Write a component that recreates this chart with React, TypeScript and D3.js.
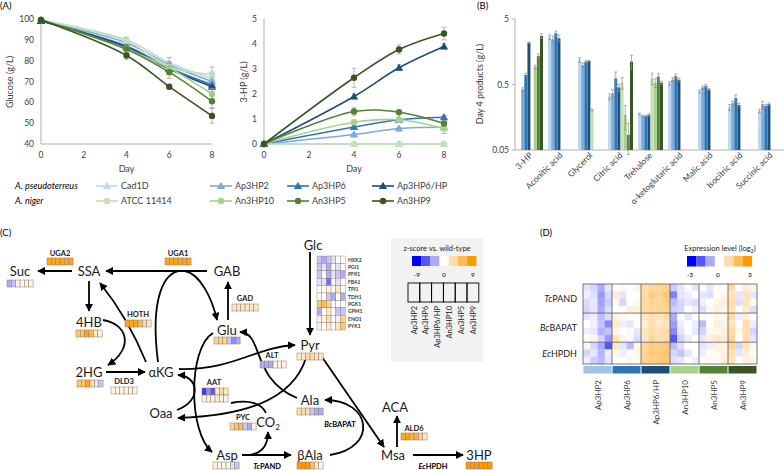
import React from "react";
import * as d3 from "d3";

const FONT = "Lato, 'Liberation Sans', sans-serif";

// ---------- Panel A data ----------
const days = [0, 4, 6, 8];
const strains = ["Cad1D", "Ap3HP2", "Ap3HP6", "Ap3HP6/HP", "ATCC 11414", "An3HP10", "An3HP5", "An3HP9"];
const strainColors = ["#BDD7EE", "#7EA9DC", "#2E75B6", "#1F4E79", "#C5E0B4", "#A9D18E", "#548235", "#375623"];
const strainMarker = ["tri", "tri", "tri", "tri", "circ", "circ", "circ", "circ"];

const glucose = [
  [99.5, 90.0, 79.0, 71.5],
  [99.0, 88.5, 78.0, 70.0],
  [99.0, 87.0, 76.5, 68.5],
  [99.0, 86.5, 76.0, 67.5],
  [99.5, 89.5, 77.0, 73.5],
  [99.5, 85.5, 76.5, 64.0],
  [99.5, 85.5, 74.5, 60.5],
  [99.5, 82.5, 67.5, 53.5],
];
const glucoseErr = [
  [0.3, 1.0, 2.5, 3.0],
  [0.3, 1.0, 1.5, 2.0],
  [0.3, 1.0, 1.5, 1.5],
  [0.3, 0.8, 1.0, 1.5],
  [0.3, 1.5, 2.0, 3.5],
  [0.3, 1.5, 2.5, 2.5],
  [0.3, 1.5, 3.0, 3.0],
  [0.3, 2.0, 1.0, 3.5],
];
const hp = [
  [0, 0, 0, 0],
  [0, 0.38, 0.62, 0.67],
  [0, 0.68, 0.97, 1.07],
  [0, 1.9, 3.05, 3.9],
  [0, 0, 0, 0],
  [0, 0.87, 0.97, 0.62],
  [0, 1.3, 1.27, 0.82],
  [0, 2.65, 3.78, 4.42],
];
const hpErr = [
  [0, 0, 0, 0],
  [0, 0.05, 0.05, 0.08],
  [0, 0.08, 0.06, 0.08],
  [0, 0.1, 0.12, 0.12],
  [0, 0, 0, 0],
  [0, 0.08, 0.06, 0.2],
  [0, 0.15, 0.05, 0.1],
  [0, 0.38, 0.18, 0.25],
];
const glucoseTicks = [40, 50, 60, 70, 80, 90, 100];
const hpTicks = [0, 1, 2, 3, 4, 5];
const dayTicks = [0, 2, 4, 6, 8];

// ---------- Panel B data ----------
const products = ["3-HP", "Aconitic acid", "Glycerol", "Citric acid", "Trehalose", "α-ketoglutaric acid", "Malic acid", "Isocitric acid", "Succinic acid"];
const productVals: (number | null)[][] = [
  [null, 2.63, 1.18, 0.326, 0.177, 0.52, 0.39, 0.224, 0.197],
  [0.42, 2.45, 0.99, 0.367, 0.165, 0.59, 0.45, 0.258, 0.25],
  [0.70, 3.03, 1.11, 0.62, 0.165, 0.67, 0.475, 0.31, 0.235],
  [2.17, 2.54, 1.14, 0.45, 0.171, 0.59, 0.42, 0.243, 0.25],
  [null, null, 0.204, 0.53, 0.62, null, null, null, null],
  [0.93, null, null, 0.171, 0.53, null, null, null, null],
  [1.36, null, null, 0.085, 0.66, null, null, null, null],
  [2.75, null, null, 1.12, 0.53, null, null, null, null],
];
const productErrPct = [
  [0, 8, 8, 10, 3, 6, 5, 10, 6],
  [6, 12, 8, 14, 3, 8, 5, 8, 10],
  [6, 8, 4, 25, 3, 8, 5, 12, 6],
  [2, 12, 3, 12, 5, 6, 4, 6, 5],
  [0, 0, 3, 20, 20, 0, 0, 0, 0],
  [6, 0, 0, 40, 15, 0, 0, 0, 0],
  [8, 0, 0, 50, 12, 0, 0, 0, 0],
  [8, 0, 0, 25, 6, 0, 0, 0, 0],
];
const productTicks = [0.05, 0.5, 5];

// ---------- Panel C data ----------
const geneZ: Record<string, number[]> = {
  UGA2: [8, 8, 8, 8, 8, 8],
  UGA1: [8, 8, 8, 8, 8, 8],
  Suc: [-3, -2, 1, 0.5, 1, 1],
  HOTH: [8, 8, 8, 6, 3, 2],
  "4HB": [5, 5, 8, 6, 2, 1],
  "2HG": [5, 5, 8, 3, -1, -2],
  DLD3: [1, 1, 1, 1, 1, 1],
  GAD: [2, 2, 2, 2, 2, 2],
  Glu: [4, 4, 4, -2, -4, -3],
  ALT: [-3, -3, -3, 1, 1, 1],
  Pyr: [2, 2, 3, 3, 2, 2],
  AAT1: [-7, -4, -6, 2, 3, 2],
  AAT2: [1, 1, 1, 1.5, 1, 1],
  Ala: [3, 3, 3, -2, -3, -3],
  PYC: [4, 5, 6, -2, -3, 1],
  Asp: [1, 1, 1, 1, -1, -2],
  bAla: [9, 9, 9, 6, 2, 1],
  ALD6: [8, 8, 7, 7, 4, 2],
  HP3: [9, 9, 9, 9, 9, 9],
};
const glycoGenes = ["HXK2", "PGI1", "PFK1", "FBA1", "TPI1", "TDH1", "PGK1", "GPM1", "ENO1", "PYK1"];
const glycoZ = [
  [-2, -3, -2, -1, 0, 0],
  [-2, -1, -3, 0, -1, 0],
  [-2, 0, -3, -1, -2, -3],
  [-1, -1, -5, 0, -1, 0],
  [0, 0, 1, 0, 2, 0],
  [0, 0, -2, -3, 0, -3],
  [5, 6, 4, 0, 0, 0],
  [-3, 0, 2, 0, -2, -2],
  [1, 1, 3, 0, 1, 4],
  [1, 0, 2, 0, 2, 5],
];
const mutantNames = ["Ap3HP2", "Ap3HP6", "Ap3HP6/HP", "An3HP10", "An3HP5", "An3HP9"];
const legendSteps = [-9, -6, -3, 0, 3, 6, 9];

// ---------- Panel D data ----------
const dRowGroups = ["TcPAND", "BcBAPAT", "EcHPDH"];
const dGroupSizes = [4, 4, 3];
const mutantColors = ["#9DC3E6", "#2E75B6", "#1F4E79", "#A9D18E", "#548235", "#375623"];
const expr = [
  [-0.3, -0.5, -1.0, -0.3, 0, 0.2, 0, 0.3, 1.0, 1.2, 1.3, 1.3, -0.6, -0.3, 0, -0.3, 0, -0.3, 0.2, 0, 1.0, 0, 0.5, 0.3],
  [-0.2, -0.4, -1.2, -0.5, 0.5, -0.3, 0, 0, 1.1, 1.5, 1.3, 1.7, -1.5, -0.3, -0.2, 0, -0.3, -0.4, 0, 0.3, 0.8, -0.3, 0.8, -0.3],
  [-0.4, -0.3, -1.1, -0.6, 0.2, -0.5, 0, 0.2, 1.1, 1.3, 1.2, 1.4, -0.8, -0.5, -0.3, -0.4, -0.2, 0, 0.3, 0.5, 1.0, -0.4, 0.8, 0.2],
  [-0.5, -0.3, -1.0, -0.4, 0, 0.1, 0.4, 0.4, 1.0, 1.2, 1.2, 1.3, -0.6, -0.5, 0, -0.2, -0.4, 0.2, 0.4, 0.3, 0.9, 0, 0.6, -0.4],
  [-0.3, -0.2, -0.8, -0.4, 0.4, 0.2, 0, 0.1, 0.7, 0.9, 0.8, 1.0, -1.0, 0, -0.3, 0, 0, 0, 0.3, 0.2, 1.0, -0.2, 0.5, 0],
  [0, -0.2, -0.7, -1.4, 0.6, -0.2, -0.3, 0, 0.5, 1.0, 0.6, 0.8, -1.2, -0.2, 0, -0.2, -0.8, 0, 0.5, 0.3, 0.8, 0, 1.0, -0.2],
  [-0.2, -0.3, -0.9, -0.7, 0.3, 0, 0.2, -0.3, 0.8, 1.0, 0.9, 1.1, -1.4, -0.3, 0, -0.3, -0.5, 0.2, 0.2, 0.4, 1.1, 0.3, 0.9, -0.5],
  [0, 0.3, -0.5, -1.2, 0.8, 0.3, -0.1, -0.4, 0.7, 1.2, 0.9, 1.0, -2.0, -0.5, -0.2, 0, -0.3, 0.4, 0.6, 0.5, 1.2, 0, 1.0, -0.3],
  [0.3, -0.5, -1.0, -2.0, 0.7, -0.3, -0.8, 0.2, 1.2, 1.5, 1.4, 1.6, -0.8, -0.4, 0, 0, -0.3, -0.2, 0.4, 0.3, 1.2, -0.5, 0.8, 0.2],
  [-0.5, -0.3, -0.9, -0.2, 0.2, -0.2, 0.1, 0.3, 1.3, 1.6, 1.5, 1.7, -0.5, -0.7, -0.3, 0, -0.2, 0.1, 0.2, 0.4, 0.9, -0.3, 0.5, 0.1],
  [-0.2, -0.6, -0.8, -0.3, 0, 0, 0.2, 0.1, 1.3, 1.5, 1.5, 1.7, -0.4, -0.3, 0, -0.2, 0, 0.2, 0.1, 0.5, 0.8, 0, 0.4, 0.3],
];
const exprSteps = [-3, -2, -1, 0, 1, 2, 3];

// ---------- scales ----------
const zColor = d3.scaleLinear<string>().domain([-9, 0, 9]).range(["#0000ff", "#ffffff", "#ff9900"]).clamp(true);
const eColor = d3.scaleLinear<string>().domain([-3, 0, 3]).range(["#0000ff", "#ffffff", "#ff9900"]).clamp(true);

function Marker({ kind, x, y, color }: { kind: string; x: number; y: number; color: string }) {
  if (kind === "tri") {
    const p = d3.symbol().type(d3.symbolTriangle).size(30)();
    return <path d={p || ""} transform={`translate(${x},${y + 0.6})`} fill={color} />;
  }
  return <circle cx={x} cy={y} r={3.2} fill={color} />;
}

function LineChart({ data, err, x0, x1, yDomain, yTicks, yLabel, labelX, tickRight }: any) {
  const x = d3.scaleLinear().domain([0, 8]).range([x0, x1]);
  const y = d3.scaleLinear().domain(yDomain).range([144, 19]);
  const line = d3.line<number>().x((_, i) => x(days[i])).y((d) => y(d)).curve(d3.curveCatmullRom.alpha(0.5));
  return (
    <g>
      <line x1={x0} x2={x0} y1={19} y2={144} stroke="#9a9a9a" strokeWidth={0.8} />
      <line x1={x0} x2={x1} y1={144} y2={144} stroke="#9a9a9a" strokeWidth={0.8} />
      {yTicks.map((t: number) => (
        <text key={t} x={tickRight} y={y(t) + 3} textAnchor="end" fontSize={8.5} fill="#404040">{t}</text>
      ))}
      {dayTicks.map((t) => (
        <text key={t} x={x(t)} y={158} textAnchor="middle" fontSize={8.5} fill="#404040">{t}</text>
      ))}
      <text x={(x0 + x1) / 2} y={172} textAnchor="middle" fontSize={9} fill="#404040">Day</text>
      <text transform={`translate(${labelX},82) rotate(-90)`} textAnchor="middle" fontSize={9} fill="#404040">{yLabel}</text>
      {data.map((s: number[], k: number) => (
        <g key={k}>
          {s.map((v, i) => err[k][i] > 0 ? (
            <g key={i} stroke="#a6a6a6" strokeWidth={0.8}>
              <line x1={x(days[i])} x2={x(days[i])} y1={y(v - err[k][i])} y2={y(v + err[k][i])} />
              <line x1={x(days[i]) - 2.5} x2={x(days[i]) + 2.5} y1={y(v - err[k][i])} y2={y(v - err[k][i])} />
              <line x1={x(days[i]) - 2.5} x2={x(days[i]) + 2.5} y1={y(v + err[k][i])} y2={y(v + err[k][i])} />
            </g>
          ) : null)}
          <path d={line(s) || ""} fill="none" stroke={strainColors[k]} strokeWidth={1.6} />
          {s.map((v, i) => (
            <Marker key={i} kind={strainMarker[k]} x={x(days[i])} y={y(v)} color={strainColors[k]} />
          ))}
        </g>
      ))}
    </g>
  );
}

function Strip({ x, y, vals }: { x: number; y: number; vals: number[] }) {
  const w = 4.35;
  return (
    <g>
      {vals.map((v, i) => (
        <rect key={i} x={x + i * w} y={y} width={w} height={7} fill={zColor(v)} stroke="#8c7b6b" strokeWidth={0.5} />
      ))}
    </g>
  );
}

export default function App() {
  // Panel B scales
  const by = d3.scaleLog().domain([0.05, 5]).range([150, 19]);
  const bx = d3.scaleBand<string>().domain(products).range([515, 785]);
  const bInner = d3.scaleBand<string>().domain(strains).range([3, 28]).paddingInner(0.05);

  const legendX = [96, 210, 287, 372];

  // Panel C layout
  const nodes: [string, number, number][] = [
    ["Suc", 20, 271], ["SSA", 89, 271], ["GAB", 227, 271], ["4HB", 89, 322], ["2HG", 89, 372],
    ["αKG", 161, 372], ["Glu", 227, 330], ["Pyr", 310, 345], ["Oaa", 161, 413], ["Ala", 310, 400],
    ["Asp", 227, 455], ["βAla", 310, 455], ["Msa", 393, 455], ["ACA", 395, 407], ["3HP", 479, 455], ["Glc", 313, 245],
  ];
  const stripPos: [string, number, number][] = [
    ["UGA2", 47, 258], ["UGA1", 165, 258], ["Suc", 7, 280], ["HOTH", 125, 320], ["4HB", 76, 330],
    ["2HG", 77, 380], ["DLD3", 111, 387], ["GAD", 232, 304], ["Glu", 214, 337], ["ALT", 260, 361],
    ["Pyr", 297, 353], ["AAT1", 202, 388], ["AAT2", 202, 395], ["Ala", 297, 408], ["PYC", 230, 423],
    ["Asp", 213, 462], ["bAla", 297, 462], ["ALD6", 401, 433], ["HP3", 466, 462],
  ];
  const geneLabels: [string, number, number][] = [
    ["UGA2", 60, 256], ["UGA1", 178, 256], ["HOTH", 138, 317], ["DLD3", 124, 384], ["GAD", 245, 301],
    ["ALT", 272, 358], ["AAT", 214, 385], ["PYC", 243, 420], ["ALD6", 414, 431],
  ];
  const arrows = [
    "M207,271 L106,271",
    "M72,271 L38,271",
    "M89,281 L89,311",
    "M103,320 C128,324 134,348 108,365",
    "M146,362 Q128,318 100,283",
    "M106,372 L145,372",
    "M158,362 C150,300 163,268 185,271 C200,274 212,298 217,320",
    "M228,320 L228,282",
    "M179,369 C235,370 255,347 295,345",
    "M177,410 C203,400 198,376 178,375",
    "M213,333 C188,348 188,432 212,452",
    "M306,358 C292,402 240,416 178,418",
    "M242,455 L291,455",
    "M250,455 C262,453 268,445 268,432",
    "M330,455 C378,448 372,400 325,400",
    "M297,398 C250,378 264,333 240,332",
    "M322,357 L384,447",
    "M397,447 L397,416",
    "M413,455 L463,455",
    "M310,252 L310,335",
  ];

  // Panel D layout
  const dx = d3.scaleBand<number>().domain(d3.range(24)).range([583, 757]);
  const dy = d3.scaleBand<number>().domain(d3.range(11)).range([284, 364]);

  return (
    <svg width={784} height={470} style={{ position: "absolute", left: 0, top: 0, background: "#fff" }} fontFamily={FONT}>
      <defs>
        <marker id="ah" viewBox="0 0 10 10" refX={9} refY={5} markerWidth={8} markerHeight={8} markerUnits="userSpaceOnUse" orient="auto">
          <path d="M0,0 L10,5 L0,10 z" fill="#000" />
        </marker>
      </defs>
      <rect width={784} height={470} fill="#fff" />

      {/* ===== Panel A ===== */}
      <text x={0} y={9} fontSize={9.5}>(A)</text>
      <LineChart data={glucose} err={glucoseErr} x0={41} x1={212} yDomain={[40, 100]} yTicks={glucoseTicks}
        yLabel="Glucose (g/L)" labelX={13} tickRight={34} />
      <LineChart data={hp} err={hpErr} x0={264} x1={444} yDomain={[0, 5]} yTicks={hpTicks}
        yLabel="3-HP (g/L)" labelX={247} tickRight={257} />
      {/* legend */}
      <text x={15} y={189} fontSize={9} fontStyle="italic">A. pseudoterreus</text>
      <text x={15} y={204} fontSize={9} fontStyle="italic">A. niger</text>
      {strains.map((s, k) => {
        const row = k < 4 ? 0 : 1;
        const lx = legendX[k % 4];
        const ly = row === 0 ? 186 : 201;
        return (
          <g key={s}>
            <line x1={lx} x2={lx + 22} y1={ly} y2={ly} stroke={strainColors[k]} strokeWidth={1.6} />
            <Marker kind={strainMarker[k]} x={lx + 11} y={ly} color={strainColors[k]} />
            <text x={lx + 25} y={ly + 3} fontSize={9} fill="#404040">{s}</text>
          </g>
        );
      })}

      {/* ===== Panel B ===== */}
      <text x={477} y={9} fontSize={9.5}>(B)</text>
      <line x1={515} x2={515} y1={19} y2={150} stroke="#9a9a9a" strokeWidth={0.8} />
      <line x1={515} x2={784} y1={150} y2={150} stroke="#9a9a9a" strokeWidth={0.8} />
      {productTicks.map((t) => (
        <g key={t}>
          <line x1={512} x2={515} y1={by(t)} y2={by(t)} stroke="#9a9a9a" strokeWidth={0.8} />
          <text x={509} y={by(t) + 3} textAnchor="end" fontSize={8.5} fill="#404040">{t}</text>
        </g>
      ))}
      <text transform="translate(483,84) rotate(-90)" textAnchor="middle" fontSize={9} fill="#404040">Day 4 products (g/L)</text>
      {products.map((p, ci) => (
        <g key={p}>
          {strains.map((s, k) => {
            const v = productVals[k][ci];
            if (v == null) return null;
            const x = (bx(p) || 0) + (bInner(s) || 0);
            const w = bInner.bandwidth();
            const e = (v * productErrPct[k][ci]) / 100;
            return (
              <g key={s}>
                <rect x={x} y={by(v)} width={w} height={150 - by(v)} fill={strainColors[k]} />
                {e > 0 && (
                  <g stroke="#8c8c8c" strokeWidth={0.7}>
                    <line x1={x + w / 2} x2={x + w / 2} y1={by(v - e)} y2={by(v + e)} />
                    <line x1={x} x2={x + w} y1={by(v + e)} y2={by(v + e)} />
                    <line x1={x} x2={x + w} y1={by(v - e)} y2={by(v - e)} />
                  </g>
                )}
              </g>
            );
          })}
          <text transform={`translate(${(bx(p) || 0) + bx.bandwidth() / 2 + 3},156) rotate(-45)`} textAnchor="end" fontSize={8.5} fill="#404040">{p}</text>
        </g>
      ))}

      {/* ===== Panel C ===== */}
      <text x={0} y={236} fontSize={9.5}>(C)</text>
      {arrows.map((d, i) => (
        <path key={i} d={d} fill="none" stroke="#000" strokeWidth={1.8} markerEnd={i === 12 ? "url(#ah)" : "url(#ah)"} />
      ))}
      <path d="M266,413 C262,404 250,399 231,403" fill="none" stroke="#000" strokeWidth={1.8} />
      {nodes.map(([n, x, y]) => (
        <text key={n} x={x} y={y + 5} textAnchor="middle" fontSize={13} fill="#1a1a1a">{n}</text>
      ))}
      <text x={268} y={427} textAnchor="middle" fontSize={13} fill="#1a1a1a">CO<tspan fontSize={8} dy={3}>2</tspan></text>
      {stripPos.map(([g, x, y]) => <Strip key={g} x={x} y={y} vals={geneZ[g]} />)}
      {geneLabels.map(([g, x, y]) => (
        <text key={g} x={x} y={y} textAnchor="middle" fontSize={7.5} fontWeight="bold" fill="#1a1a1a">{g}</text>
      ))}
      <text x={267} y={469} textAnchor="middle" fontSize={7.5} fontWeight="bold"><tspan fontStyle="italic">Tc</tspan>PAND</text>
      <text x={340} y={427} textAnchor="middle" fontSize={7.5} fontWeight="bold"><tspan fontStyle="italic">Bc</tspan>BAPAT</text>
      <text x={433} y={469} textAnchor="middle" fontSize={7.5} fontWeight="bold"><tspan fontStyle="italic">Ec</tspan>HPDH</text>
      {/* glycolysis heatmap */}
      {glycoZ.map((row, r) => (
        <g key={r}>
          {row.map((v, c) => (
            <rect key={c} x={317 + c * 4.7} y={256 + r * 7.4} width={4.7} height={7.4} fill={zColor(v)} stroke="#8c7b6b" strokeWidth={0.4} />
          ))}
          <text x={348} y={256 + r * 7.4 + 5.5} fontSize={5} fontWeight="bold" fill="#333">{glycoGenes[r]}</text>
        </g>
      ))}
      {/* z-score legend */}
      <rect x={391} y={238} width={92} height={124} fill="#F2F2F2" />
      <text x={437} y={251} textAnchor="middle" fontSize={7.5} fill="#1a1a1a">z-score vs. wild-type</text>
      {legendSteps.map((s, i) => (
        <rect key={s} x={412 + i * 9.2} y={256} width={9.2} height={10} fill={zColor(s)} />
      ))}
      <text x={417} y={277} textAnchor="middle" fontSize={6.5}>-9</text>
      <text x={444} y={277} textAnchor="middle" fontSize={6.5}>0</text>
      <text x={473} y={277} textAnchor="middle" fontSize={6.5}>9</text>
      {mutantNames.map((m, i) => (
        <g key={m}>
          <rect x={408 + i * 11.8} y={283} width={11.8} height={19} fill="none" stroke="#000" strokeWidth={0.9} />
          <text transform={`translate(${408 + i * 11.8 + 8.5},306) rotate(-90)`} textAnchor="end" fontSize={7.5} fill="#1a1a1a">{m}</text>
        </g>
      ))}

      {/* ===== Panel D ===== */}
      <text x={540} y={236} fontSize={9.5}>(D)</text>
      <text x={720} y={251} textAnchor="middle" fontSize={7.5} fill="#1a1a1a">Expression level (log<tspan fontSize={5.5} dy={2}>2</tspan><tspan dy={-2}>)</tspan></text>
      {exprSteps.map((s, i) => (
        <rect key={s} x={687 + i * 9.3} y={256} width={9.3} height={10.5} fill={eColor(s)} />
      ))}
      <text x={690} y={277} textAnchor="middle" fontSize={6.5}>-3</text>
      <text x={718} y={277} textAnchor="middle" fontSize={6.5}>0</text>
      <text x={750} y={277} textAnchor="middle" fontSize={6.5}>3</text>
      {expr.map((row, r) => row.map((v, c) => (
        <rect key={`${r}-${c}`} x={dx(c)} y={dy(r)} width={dx.bandwidth() + 0.2} height={dy.bandwidth() + 0.2} fill={eColor(v)} />
      )))}
      <rect x={583} y={284} width={174} height={80} fill="none" stroke="#595959" strokeWidth={0.8} />
      {d3.range(1, 6).map((g) => (
        <line key={g} x1={dx(g * 4)} x2={dx(g * 4)} y1={284} y2={364} stroke="#595959" strokeWidth={0.8} />
      ))}
      {[4, 8].map((r) => (
        <line key={r} x1={583} x2={757} y1={dy(r)} y2={dy(r)} stroke="#595959" strokeWidth={0.8} />
      ))}
      {dRowGroups.map((g, i) => {
        const start = d3.sum(dGroupSizes.slice(0, i));
        const cy = ((dy(start) || 0) + (dy(start + dGroupSizes[i] - 1) || 0) + dy.bandwidth()) / 2;
        return (
          <text key={g} x={577} y={cy + 3.5} textAnchor="end" fontSize={9} fill="#1a1a1a">
            <tspan fontStyle="italic">{g.slice(0, 2)}</tspan>{g.slice(2)}
          </text>
        );
      })}
      {mutantNames.map((m, i) => {
        const x0 = dx(i * 4) || 0;
        const w = dx.bandwidth() * 4;
        return (
          <g key={m}>
            <rect x={x0 + 0.5} y={366} width={w - 1} height={7.5} fill={mutantColors[i]} />
            <text transform={`translate(${x0 + w / 2 + 3},380) rotate(-90)`} textAnchor="end" fontSize={8} fill="#404040">{m}</text>
          </g>
        );
      })}
    </svg>
  );
}
